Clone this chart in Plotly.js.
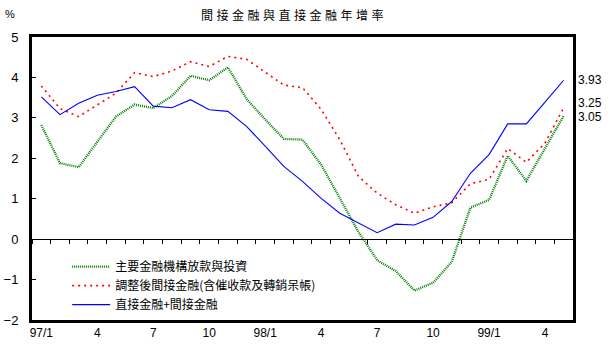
<!DOCTYPE html>
<html>
<head>
<meta charset="utf-8">
<script src="https://cdn.plot.ly/plotly-3.0.1.min.js"></script>
<style>
html,body{margin:0;padding:0;background:#fff;}
#chart{width:614px;height:356px;}
#chart .gtitle{letter-spacing:3.5px;}
</style>
</head>
<body>
<div id="chart"></div>
<script>
// Months 97/1 .. 99/5
const months = ["97/1","97/2","97/3","97/4","97/5","97/6","97/7","97/8","97/9","97/10","97/11","97/12",
  "98/1","98/2","98/3","98/4","98/5","98/6","98/7","98/8","98/9","98/10","98/11","98/12",
  "99/1","99/2","99/3","99/4","99/5"];
const tickMonths = ["97/1","97/4","97/7","97/10","98/1","98/4","98/7","98/10","99/1","99/4"];
const tickLabels = ["97/1","4","7","10","98/1","4","7","10","99/1","4"];

const nameLoans = "主要金融機構放款與投資";
const nameAdjusted = "調整後間接金融(含催收款及轉銷呆帳)";
const nameTotal = "直接金融+間接金融";

const loans = [2.82,1.88,1.78,2.42,3.03,3.33,3.24,3.54,4.04,3.93,4.25,3.47,2.96,2.48,2.46,1.84,1.01,0.18,-0.52,-0.79,-1.27,-1.08,-0.56,0.78,0.97,2.06,1.44,2.26,3.05];
const adjusted = [3.79,3.23,3.03,3.33,3.61,4.12,4.02,4.16,4.39,4.27,4.52,4.45,4.12,3.81,3.75,3.21,2.46,1.55,1.14,0.85,0.64,0.80,0.90,1.37,1.48,2.24,1.90,2.38,3.25];
const total = [3.52,3.08,3.36,3.56,3.65,3.77,3.29,3.25,3.45,3.20,3.16,2.79,2.30,1.80,1.43,1.01,0.64,0.41,0.16,0.37,0.35,0.54,0.93,1.63,2.09,2.85,2.85,3.39,3.93];

const latin = "Liberation Sans, Arial, sans-serif";
const cjk = "Noto Sans CJK TC, Noto Sans CJK SC, sans-serif";

const traces = [
  {x: months, y: loans, name: nameLoans, type: "scatter", mode: "lines",
   line: {color: "#008000", width: 2.3, dash: "1px,1px"}},
  {x: months, y: adjusted, name: nameAdjusted, type: "scatter", mode: "lines",
   line: {color: "#ff0000", width: 1.6, dash: "2px,4px"}},
  {x: months, y: total, name: nameTotal, type: "scatter", mode: "lines",
   line: {color: "#0000ff", width: 1.1}},
  // zero line with month ticks
  {x: months, y: months.map(() => null), xaxis: "x2", yaxis: "y", showlegend: false, hoverinfo: "skip",
   type: "scatter", mode: "lines"}
];

const last = months.length - 1;
const endLabels = [
  {v: total[last], shift: 0},
  {v: adjusted[last], shift: 5},
  {v: loans[last], shift: -1}
];

const layout = {
  width: 614, height: 356,
  margin: {l: 32, r: 41, t: 37, b: 36},
  paper_bgcolor: "#fff", plot_bgcolor: "#fff",
  showlegend: true,
  title: {text: "間接金融與直接金融年增率", font: {family: cjk, size: 12, color: "#000"},
          x: 0.479, xanchor: "center", y: 0.957, yanchor: "middle"},
  xaxis: {type: "category", categoryorder: "array", categoryarray: months,
          range: [-0.5, months.length - 0.5],
          tickvals: tickMonths, ticktext: tickLabels, ticks: "",
          showline: true, mirror: true, linecolor: "#000", linewidth: 3,
          showgrid: false, zeroline: false,
          tickfont: {family: latin, size: 12, color: "#000"}},
  xaxis2: {type: "category", categoryorder: "array", categoryarray: months,
          range: [-0.5, months.length - 0.5], overlaying: "x", anchor: "free",
          position: 2 / 7, showline: true, linecolor: "#000", linewidth: 1,
          ticks: "outside", ticklen: 4, tickwidth: 1, tickcolor: "#000",
          tickson: "boundaries", showticklabels: false, showgrid: false, zeroline: false},
  yaxis: {range: [-2, 5], dtick: 1, tick0: 0, ticks: "inside", ticklen: 4, tickwidth: 1,
          tickcolor: "#000", showline: true, mirror: true, linecolor: "#000", linewidth: 3,
          showgrid: false, zeroline: false, ticklabelstandoff: 8,
          tickfont: {family: latin, size: 13, color: "#000"}},
  legend: {x: 0.065, xanchor: "left", y: 0.24, yanchor: "top",
           bgcolor: "rgba(0,0,0,0)", font: {family: cjk, size: 12, color: "#000"},
           itemwidth: 38, tracegroupgap: 0},
  annotations: [
    {text: "%", xref: "paper", yref: "paper", x: -0.04, y: 1.08, showarrow: false,
     xanchor: "center", yanchor: "middle", font: {family: latin, size: 11, color: "#000"}}
  ].concat(endLabels.map(e => ({
    text: e.v.toFixed(2), xref: "paper", yref: "y", x: 1, y: e.v, yshift: e.shift,
    xanchor: "left", xshift: 3, yanchor: "middle", showarrow: false,
    font: {family: latin, size: 12, color: "#000"}
  })))
};

Plotly.newPlot("chart", traces, layout, {displayModeBar: false, staticPlot: true});
</script>
</body>
</html>
